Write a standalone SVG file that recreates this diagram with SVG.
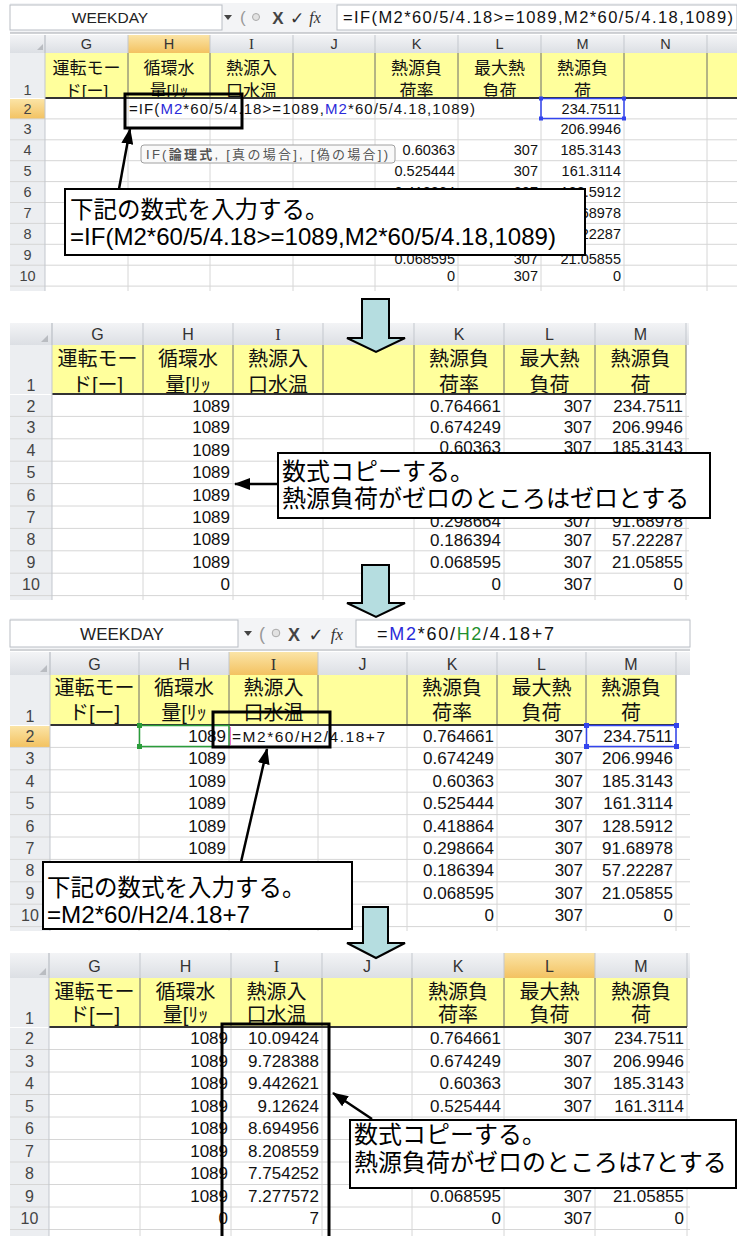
<svg xmlns="http://www.w3.org/2000/svg" width="737" height="1236" viewBox="0 0 737 1236">
<defs>
<style>
.num{font-family:"Liberation Sans",Arial,sans-serif;text-anchor:end;fill:#111}
.s1{font-size:14.5px}
.s2{font-size:17px}
.rn{font-family:"Liberation Sans",Arial,sans-serif;text-anchor:middle;fill:#444}
.cl{font-family:"Liberation Sans",Arial,sans-serif;text-anchor:middle;fill:#333}
.jp{font-family:"Liberation Sans","Noto Sans CJK JP","Noto Sans CJK SC",sans-serif}
.hd{text-anchor:middle;fill:#111}
.grid{stroke:#d6d6d6;stroke-width:1;fill:none}
.vsep{stroke:#c3c7cd;stroke-width:1}
.hsep{stroke:#6b6b6b;stroke-width:1}
.chbg{fill:url(#gch)}
.chhl{fill:url(#gchh)}
.rnbg{fill:#eceef1}
.yel{fill:#ffff9c}
.co{fill:#fff;stroke:#000;stroke-width:2}
.hl{fill:none;stroke:#000;stroke-width:3}
.ln{stroke:#000;stroke-width:2.5;fill:none;marker-end:url(#ah)}
.darr{fill:#b5dde0;stroke:#000;stroke-width:2;stroke-linejoin:miter}
.ct{font-size:24px;fill:#000}
.lat{font-family:"Liberation Sans",Arial,sans-serif}
.blue{fill:#2b2bd9}
.green{fill:#1f8f2f}
.fb{fill:#f3f4f6}
.box{fill:#fff;stroke:#b9bdc4;stroke-width:1}
.thick{stroke:#333;stroke-width:2}
</style>
<linearGradient id="gch" x1="0" y1="0" x2="0" y2="1"><stop offset="0" stop-color="#f3f4f6"/><stop offset="1" stop-color="#dcdfe4"/></linearGradient>
<linearGradient id="gchh" x1="0" y1="0" x2="0" y2="1"><stop offset="0" stop-color="#fbe4a6"/><stop offset="1" stop-color="#f3c261"/></linearGradient>
<marker id="ah" markerUnits="userSpaceOnUse" markerWidth="16" markerHeight="12" viewBox="0 0 16 12" refX="15" refY="6" orient="auto"><path d="M0,0 L16,6 L0,12 z" fill="#000"/></marker>
</defs>
<rect x="0" y="0" width="737" height="1236" fill="#fff"/>

<!-- PANEL 1 -->
<g id="panel1">
<rect class="fb" x="10" y="3" width="727" height="30"/>
<rect class="box" x="10" y="5" width="212" height="25"/>
<text class="lat" x="110" y="23" font-size="15.5" text-anchor="middle" fill="#222">WEEKDAY</text>
<polygon points="224,15 232,15 228,20" fill="#444"/>
<text class="lat" x="240" y="23" font-size="17" fill="#999">(</text>
<circle cx="256" cy="17" r="3.5" fill="#e2e2e2" stroke="#aaa"/>
<text class="lat" x="278" y="24" font-size="17" font-weight="bold" text-anchor="middle" fill="#444">X</text>
<text x="297" y="24" font-family="DejaVu Sans, sans-serif" font-size="17" text-anchor="middle" fill="#333">✓</text>
<text x="315" y="23" font-family="Liberation Serif, serif" font-style="italic" font-size="16" text-anchor="middle" fill="#333">fx</text>
<rect class="box" x="337" y="5" width="400" height="25"/>
<text class="lat" x="343" y="23" font-size="16.5" textLength="390" lengthAdjust="spacing" fill="#111">=IF(M2*60/5/4.18&gt;=1089,M2*60/5/4.18,1089)</text>
<line x1="10" y1="33" x2="737" y2="33" stroke="#a4a8ae"/>

<rect class="chbg" x="10" y="35" width="727" height="18"/>
<rect class="chhl" x="128" y="35" width="82" height="18"/>
<polygon points="37,50 43,50 43,44" fill="#b9bcc1"/>
<path class="vsep" d="M45 35V53M128 35V53M210 35V53M293 35V53M375 35V53M458 35V53M541 35V53M624 35V53M707 35V53"/>
<text class="cl" font-size="14.5" y="49"><tspan x="86.5">G</tspan><tspan x="169">H</tspan></text>
<text x="251.5" y="49" font-family="Liberation Serif, serif" font-size="15" text-anchor="middle" fill="#333">I</text>
<text class="cl" font-size="14.5" y="49"><tspan x="334">J</tspan><tspan x="416.5">K</tspan><tspan x="499.5">L</tspan><tspan x="582.5">M</tspan><tspan x="665.5">N</tspan></text>

<rect class="rnbg" x="10" y="53" width="35" height="45"/>
<rect class="yel" x="45" y="53" width="692" height="45"/>
<text class="rn" font-size="14.5" x="27.5" y="95">1</text>
<g class="jp hd" font-size="17">
<text y="74"><tspan x="86.5">運転モー</tspan><tspan x="86.5" y="96.5">ド[ー]</tspan></text>
<text y="74"><tspan x="169">循環水</tspan><tspan x="169" y="96.5">量[ﾘｯ</tspan></text>
<text y="74"><tspan x="251.5">熱源入</tspan><tspan x="251.5" y="96.5">口水温</tspan></text>
<text y="74"><tspan x="416.5">熱源負</tspan><tspan x="416.5" y="96.5">荷率</tspan></text>
<text y="74"><tspan x="499.5">最大熱</tspan><tspan x="499.5" y="96.5">負荷</tspan></text>
<text y="74"><tspan x="582.5">熱源負</tspan><tspan x="582.5" y="96.5">荷</tspan></text>
</g>
<rect x="45" y="99" width="692" height="192" fill="#fff"/>
<path class="hsep" d="M128 53V98M210 53V98M293 53V98M375 53V98M458 53V98M541 53V98M624 53V98M707 53V98"/>
<line class="thick" x1="45" y1="98" x2="737" y2="98"/>
<rect class="rnbg" x="10" y="99" width="35" height="192"/>
<rect class="chhl" x="10" y="99" width="35" height="20"/>
<path class="grid" d="M10 118.9H737M10 139.8H737M10 160.7H737M10 181.6H737M10 202.5H737M10 223.4H737M10 244.3H737M10 265.2H737M10 286.1H737"/>
<path class="grid" d="M128 99V291M210 99V291M293 99V291M375 99V291M458 99V291M541 99V291M624 99V291M707 99V291"/>
<line class="vsep" x1="45" y1="35" x2="45" y2="291"/>
<g class="rn" font-size="14.5">
<text x="27.5" y="113.5">2</text><text x="27.5" y="134.4">3</text><text x="27.5" y="155.3">4</text><text x="27.5" y="176.2">5</text><text x="27.5" y="197.1">6</text><text x="27.5" y="218">7</text><text x="27.5" y="238.9">8</text><text x="27.5" y="259.8">9</text><text x="27.5" y="280.7">10</text>
</g>
<text class="lat" x="129" y="113.8" font-size="15" textLength="346" lengthAdjust="spacing" fill="#111">=IF(<tspan class="blue">M2</tspan>*60/5/4.18&gt;=1089,<tspan class="blue">M2</tspan>*60/5/4.18,1089)</text>
<g class="num s1">
<text x="621" y="113.5">234.7511</text>
<text x="621" y="134.4">206.9946</text>
<text x="455" y="155.3">0.60363</text><text x="538" y="155.3">307</text><text x="621" y="155.3">185.3143</text>
<text x="455" y="176.2">0.525444</text><text x="538" y="176.2">307</text><text x="621" y="176.2">161.3114</text>
<text x="455" y="196.6">0.418864</text><text x="538" y="196.6">307</text><text x="621" y="196.6">128.5912</text>
<text x="621" y="218">91.68978</text>
<text x="621" y="238.9">57.22287</text>
<text x="455" y="263.6">0.068595</text><text x="538" y="263.6">307</text><text x="621" y="263.6">21.05855</text>
<text x="455" y="281">0</text><text x="538" y="281">307</text><text x="621" y="281">0</text>
</g>
<rect x="541" y="98.5" width="83" height="20" fill="none" stroke="#3344ee" stroke-width="1.5"/>
<rect x="539" y="96.5" width="4" height="4" fill="#3344ee"/><rect x="622" y="96.5" width="4" height="4" fill="#3344ee"/><rect x="539" y="116.5" width="4" height="4" fill="#3344ee"/><rect x="622" y="116.5" width="4" height="4" fill="#3344ee"/>
<rect x="141" y="145" width="254" height="18" rx="3" fill="#f9f9f9" stroke="#a0a0a0"/>
<text class="jp" x="146" y="159" font-size="13" textLength="242" lengthAdjust="spacing" fill="#555">IF(<tspan font-weight="bold">論理式</tspan>, [真の場合], [偽の場合])</text>
</g>
<g id="p1-formula-box"><rect class="hl" x="125" y="94" width="117" height="34"/></g>
<g id="p1-callout">
<rect class="co" x="65" y="189" width="520" height="66"/>
<text class="jp ct"><tspan x="70" y="218" font-size="23.5">下記の数式を入力する。</tspan><tspan x="70" y="245" textLength="486" lengthAdjust="spacingAndGlyphs">=IF(M2*60/5/4.18&gt;=1089,M2*60/5/4.18,1089)</tspan></text>
</g>

<!-- PANEL 2 -->
<g id="panel2">
<rect class="chbg" x="10" y="323" width="679" height="22"/>
<polygon points="41,342 48,342 48,335" fill="#b9bcc1"/>
<path class="vsep" d="M52 323V345M143 323V345M233 323V345M323 323V345M414 323V345M504 323V345M595 323V345M686 323V345"/>
<text class="cl" font-size="16" y="340"><tspan x="97.5">G</tspan><tspan x="188">H</tspan></text>
<text x="278" y="340" font-family="Liberation Serif, serif" font-size="16.5" text-anchor="middle" fill="#333">I</text>
<text class="cl" font-size="16" y="340"><tspan x="368.5">J</tspan><tspan x="459">K</tspan><tspan x="549.5">L</tspan><tspan x="640.5">M</tspan></text>
<rect class="rnbg" x="10" y="345" width="42" height="49"/>
<rect class="yel" x="52" y="345" width="634" height="49"/>
<text class="rn" font-size="16" x="31" y="391">1</text>
<g class="jp hd" font-size="20">
<text y="366"><tspan x="97.5">運転モー</tspan><tspan x="97.5" y="391.5">ド[ー]</tspan></text>
<text y="366"><tspan x="188">循環水</tspan><tspan x="188" y="391.5">量[ﾘｯ</tspan></text>
<text y="366"><tspan x="278">熱源入</tspan><tspan x="278" y="391.5">口水温</tspan></text>
<text y="366"><tspan x="459">熱源負</tspan><tspan x="459" y="391.5">荷率</tspan></text>
<text y="366"><tspan x="549.5">最大熱</tspan><tspan x="549.5" y="391.5">負荷</tspan></text>
<text y="366"><tspan x="640.5">熱源負</tspan><tspan x="640.5" y="391.5">荷</tspan></text>
</g>
<rect x="52" y="395" width="637" height="205" fill="#fff"/>
<path class="hsep" d="M143 345V394M233 345V394M323 345V394M414 345V394M504 345V394M595 345V394M686 345V394"/>
<line class="thick" x1="52" y1="394" x2="686" y2="394"/>
<rect class="rnbg" x="10" y="395" width="42" height="205"/>
<path class="grid" d="M10 416.4H689M10 438.8H689M10 461.2H689M10 483.6H689M10 506H689M10 528.4H689M10 550.8H689M10 573.2H689M10 595.6H689"/>
<path class="grid" d="M143 395V600M233 395V600M323 395V600M414 395V600M504 395V600M595 395V600M686 395V600"/>
<line class="vsep" x1="52" y1="323" x2="52" y2="600"/>
<g class="rn" font-size="16">
<text x="31" y="411.5">2</text><text x="31" y="433.4">3</text><text x="31" y="455.8">4</text><text x="31" y="478.2">5</text><text x="31" y="500.6">6</text><text x="31" y="523">7</text><text x="31" y="545.4">8</text><text x="31" y="567.8">9</text><text x="31" y="590.2">10</text>
</g>
<g class="num s2">
<text x="230" y="411.5">1089</text><text x="230" y="433.4">1089</text><text x="230" y="455.8">1089</text><text x="230" y="478.2">1089</text><text x="230" y="500.6">1089</text><text x="230" y="523">1089</text><text x="230" y="545.4">1089</text><text x="230" y="567.8">1089</text><text x="230" y="590.2">0</text>
<text x="501" y="411.5">0.764661</text><text x="592" y="411.5">307</text><text x="683" y="411.5">234.7511</text>
<text x="501" y="433.4">0.674249</text><text x="592" y="433.4">307</text><text x="683" y="433.4">206.9946</text>
<text x="501" y="453.4">0.60363</text><text x="592" y="453.4">307</text><text x="683" y="453.4">185.3143</text>
<text x="501" y="527.3">0.298664</text><text x="592" y="527.3">307</text><text x="683" y="527.3">91.68978</text>
<text x="501" y="546">0.186394</text><text x="592" y="546">307</text><text x="683" y="546">57.22287</text>
<text x="501" y="567.8">0.068595</text><text x="592" y="567.8">307</text><text x="683" y="567.8">21.05855</text>
<text x="501" y="590.2">0</text><text x="592" y="590.2">307</text><text x="683" y="590.2">0</text>
</g>
</g>
<g id="p2-callout">
<rect class="co" x="278" y="453" width="432" height="65"/>
<text class="jp ct"><tspan x="282" y="479.5">数式コピーする。</tspan><tspan x="282" y="506.5">熱源負荷がゼロのところはゼロとする</tspan></text>
</g>

<!-- PANEL 3 -->
<g id="panel3">
<rect class="fb" x="10" y="618" width="680" height="31"/>
<rect class="box" x="10" y="620" width="228" height="27"/>
<text class="lat" x="122" y="640" font-size="17" text-anchor="middle" fill="#222">WEEKDAY</text>
<polygon points="244,631 252,631 248,636" fill="#444"/>
<text class="lat" x="259" y="640" font-size="18" fill="#999">(</text>
<circle cx="276" cy="633" r="3.8" fill="#e2e2e2" stroke="#aaa"/>
<text class="lat" x="294" y="641" font-size="18" font-weight="bold" text-anchor="middle" fill="#444">X</text>
<text x="316" y="641" font-family="DejaVu Sans, sans-serif" font-size="18" text-anchor="middle" fill="#333">✓</text>
<text x="337" y="640" font-family="Liberation Serif, serif" font-style="italic" font-size="17" text-anchor="middle" fill="#333">fx</text>
<rect class="box" x="356" y="620" width="334" height="27"/>
<text class="lat" x="377" y="640" font-size="18" textLength="177" lengthAdjust="spacing" fill="#111">=<tspan class="blue">M2</tspan>*60/<tspan class="green">H2</tspan>/4.18+7</text>
<line x1="10" y1="650" x2="690" y2="650" stroke="#a4a8ae"/>
<rect class="chbg" x="10" y="652" width="680" height="23"/>
<rect class="chhl" x="229" y="652" width="89" height="23"/>
<polygon points="40,672 47,672 47,665" fill="#b9bcc1"/>
<path class="vsep" d="M50 652V675M139 652V675M229 652V675M318 652V675M407 652V675M497 652V675M586 652V675M676 652V675"/>
<text class="cl" font-size="16" y="670"><tspan x="94.5">G</tspan><tspan x="184">H</tspan></text>
<text x="273.5" y="670" font-family="Liberation Serif, serif" font-size="16.5" text-anchor="middle" fill="#333">I</text>
<text class="cl" font-size="16" y="670"><tspan x="362.5">J</tspan><tspan x="452">K</tspan><tspan x="541.5">L</tspan><tspan x="631">M</tspan></text>
<rect class="rnbg" x="10" y="675" width="40" height="50"/>
<rect class="yel" x="50" y="675" width="626" height="50"/>
<text class="rn" font-size="16" x="30" y="722">1</text>
<g class="jp hd" font-size="20">
<text y="695"><tspan x="94.5">運転モー</tspan><tspan x="94.5" y="720">ド[ー]</tspan></text>
<text y="695"><tspan x="184">循環水</tspan><tspan x="184" y="720">量[ﾘｯ</tspan></text>
<text y="695"><tspan x="273.5">熱源入</tspan><tspan x="273.5" y="720">口水温</tspan></text>
<text y="695"><tspan x="452">熱源負</tspan><tspan x="452" y="720">荷率</tspan></text>
<text y="695"><tspan x="541.5">最大熱</tspan><tspan x="541.5" y="720">負荷</tspan></text>
<text y="695"><tspan x="631">熱源負</tspan><tspan x="631" y="720">荷</tspan></text>
</g>
<rect x="50" y="726" width="640" height="205" fill="#fff"/>
<path class="hsep" d="M139 675V725M229 675V725M318 675V725M407 675V725M497 675V725M586 675V725M676 675V725"/>
<line class="thick" x1="50" y1="725" x2="676" y2="725"/>
<rect class="rnbg" x="10" y="726" width="40" height="205"/>
<rect class="chhl" x="10" y="726" width="40" height="21"/>
<path class="grid" d="M10 747.4H690M10 769.8H690M10 792.2H690M10 814.6H690M10 837H690M10 859.4H690M10 881.8H690M10 904.2H690M10 926.6H690"/>
<path class="grid" d="M139 726V931M229 726V931M318 726V931M407 726V931M497 726V931M586 726V931M676 726V931"/>
<line class="vsep" x1="50" y1="652" x2="50" y2="931"/>
<g class="rn" font-size="16">
<text x="30" y="742">2</text><text x="30" y="764.4">3</text><text x="30" y="786.8">4</text><text x="30" y="809.2">5</text><text x="30" y="831.6">6</text><text x="30" y="854">7</text><text x="30" y="876.4">8</text><text x="30" y="898.8">9</text><text x="30" y="921.2">10</text>
</g>
<rect x="230" y="726" width="170" height="20" fill="#fff"/>
<line x1="230" y1="727" x2="230" y2="745" stroke="#e040c0" stroke-width="1.5"/>
<text class="lat" x="232" y="742" font-size="15.5" textLength="153" lengthAdjust="spacing" fill="#111">=M2*60/H2/4.18+7</text>
<g class="num s2">
<text x="226" y="742">1089</text><text x="226" y="764.4">1089</text><text x="226" y="786.8">1089</text><text x="226" y="809.2">1089</text><text x="226" y="831.6">1089</text><text x="226" y="854">1089</text>
<text x="494" y="742">0.764661</text><text x="583" y="742">307</text><text x="673" y="742">234.7511</text>
<text x="494" y="764.4">0.674249</text><text x="583" y="764.4">307</text><text x="673" y="764.4">206.9946</text>
<text x="494" y="786.8">0.60363</text><text x="583" y="786.8">307</text><text x="673" y="786.8">185.3143</text>
<text x="494" y="809.2">0.525444</text><text x="583" y="809.2">307</text><text x="673" y="809.2">161.3114</text>
<text x="494" y="831.6">0.418864</text><text x="583" y="831.6">307</text><text x="673" y="831.6">128.5912</text>
<text x="494" y="854">0.298664</text><text x="583" y="854">307</text><text x="673" y="854">91.68978</text>
<text x="494" y="876.4">0.186394</text><text x="583" y="876.4">307</text><text x="673" y="876.4">57.22287</text>
<text x="494" y="898.8">0.068595</text><text x="583" y="898.8">307</text><text x="673" y="898.8">21.05855</text>
<text x="494" y="921.2">0</text><text x="583" y="921.2">307</text><text x="673" y="921.2">0</text>
</g>
<rect x="139.5" y="725.5" width="89.5" height="21" fill="none" stroke="#2a9d3a" stroke-width="1.5"/>
<rect x="137" y="723" width="5" height="5" fill="#2a9d3a"/><rect x="137" y="744" width="5" height="5" fill="#2a9d3a"/>
<rect x="586.5" y="725.5" width="89.5" height="21" fill="none" stroke="#3344ee" stroke-width="1.5"/>
<rect x="584" y="723" width="5" height="5" fill="#3344ee"/><rect x="674" y="723" width="5" height="5" fill="#3344ee"/><rect x="584" y="744" width="5" height="5" fill="#3344ee"/><rect x="674" y="744" width="5" height="5" fill="#3344ee"/>
</g>
<g id="p3-formula-box"><rect class="hl" x="213" y="712" width="117" height="35"/></g>
<g id="p3-callout">
<rect class="co" x="43" y="862" width="309" height="67"/>
<text class="jp ct"><tspan x="47" y="896" font-size="23.5">下記の数式を入力する。</tspan><tspan x="47" y="923" textLength="203" lengthAdjust="spacingAndGlyphs">=M2*60/H2/4.18+7</tspan></text>
</g>

<!-- PANEL 4 -->
<g id="panel4">
<rect class="chbg" x="10" y="953" width="680" height="25"/>
<rect class="chhl" x="504" y="953" width="91" height="25"/>
<polygon points="39,975 46,975 46,968" fill="#b9bcc1"/>
<path class="vsep" d="M49 953V978M140 953V978M231 953V978M322 953V978M412 953V978M504 953V978M595 953V978M687 953V978"/>
<text class="cl" font-size="16" y="972"><tspan x="94.5">G</tspan><tspan x="185.5">H</tspan></text>
<text x="276.5" y="972" font-family="Liberation Serif, serif" font-size="16.5" text-anchor="middle" fill="#333">I</text>
<text class="cl" font-size="16" y="972"><tspan x="367">J</tspan><tspan x="458">K</tspan><tspan x="549.5">L</tspan><tspan x="641">M</tspan></text>
<rect class="rnbg" x="10" y="978" width="39" height="49"/>
<rect class="yel" x="49" y="978" width="638" height="49"/>
<text class="rn" font-size="16" x="29.5" y="1024">1</text>
<g class="jp hd" font-size="20">
<text y="999"><tspan x="94.5">運転モー</tspan><tspan x="94.5" y="1022">ド[ー]</tspan></text>
<text y="999"><tspan x="185.5">循環水</tspan><tspan x="185.5" y="1022">量[ﾘｯ</tspan></text>
<text y="999"><tspan x="276.5">熱源入</tspan><tspan x="276.5" y="1022">口水温</tspan></text>
<text y="999"><tspan x="458">熱源負</tspan><tspan x="458" y="1022">荷率</tspan></text>
<text y="999"><tspan x="549.5">最大熱</tspan><tspan x="549.5" y="1022">負荷</tspan></text>
<text y="999"><tspan x="641">熱源負</tspan><tspan x="641" y="1022">荷</tspan></text>
</g>
<rect x="49" y="1028" width="641" height="208" fill="#fff"/>
<path class="hsep" d="M140 978V1027M231 978V1027M322 978V1027M412 978V1027M504 978V1027M595 978V1027M687 978V1027"/>
<line class="thick" x1="49" y1="1027" x2="687" y2="1027"/>
<rect class="rnbg" x="10" y="1028" width="39" height="208"/>
<path class="grid" d="M10 1049.5H690M10 1072H690M10 1094.5H690M10 1117H690M10 1139.5H690M10 1162H690M10 1184.5H690M10 1207H690M10 1229.5H690"/>
<path class="grid" d="M140 1028V1236M231 1028V1236M322 1028V1236M412 1028V1236M504 1028V1236M595 1028V1236M687 1028V1236"/>
<line class="vsep" x1="49" y1="953" x2="49" y2="1236"/>
<g class="rn" font-size="16">
<text x="29.5" y="1044">2</text><text x="29.5" y="1066.5">3</text><text x="29.5" y="1089">4</text><text x="29.5" y="1111.5">5</text><text x="29.5" y="1134">6</text><text x="29.5" y="1156.5">7</text><text x="29.5" y="1179">8</text><text x="29.5" y="1201.5">9</text><text x="29.5" y="1224">10</text>
</g>
<g class="num s2">
<text x="228" y="1044">1089</text><text x="228" y="1066.5">1089</text><text x="228" y="1089">1089</text><text x="228" y="1111.5">1089</text><text x="228" y="1134">1089</text><text x="228" y="1156.5">1089</text><text x="228" y="1179">1089</text><text x="228" y="1201.5">1089</text><text x="228" y="1224">0</text>
<text x="319" y="1044">10.09424</text><text x="319" y="1066.5">9.728388</text><text x="319" y="1089">9.442621</text><text x="319" y="1111.5">9.12624</text><text x="319" y="1134">8.694956</text><text x="319" y="1156.5">8.208559</text><text x="319" y="1179">7.754252</text><text x="319" y="1201.5">7.277572</text><text x="319" y="1224">7</text>
<text x="501" y="1044">0.764661</text><text x="592" y="1044">307</text><text x="684" y="1044">234.7511</text>
<text x="501" y="1066.5">0.674249</text><text x="592" y="1066.5">307</text><text x="684" y="1066.5">206.9946</text>
<text x="501" y="1089">0.60363</text><text x="592" y="1089">307</text><text x="684" y="1089">185.3143</text>
<text x="501" y="1111.5">0.525444</text><text x="592" y="1111.5">307</text><text x="684" y="1111.5">161.3114</text>
<text x="501" y="1201.5">0.068595</text><text x="592" y="1201.5">307</text><text x="684" y="1201.5">21.05855</text>
<text x="501" y="1224">0</text><text x="592" y="1224">307</text><text x="684" y="1224">0</text>
</g>
</g>
<g id="p4-column-box"><rect class="hl" x="222" y="1024" width="107" height="230"/></g>
<g id="p4-callout">
<rect class="co" x="350" y="1120" width="386" height="68"/>
<text class="jp ct"><tspan x="354" y="1143">数式コピーする。</tspan><tspan x="354" y="1171">熱源負荷がゼロのところは7とする</tspan></text>
</g>

<!-- CONNECTORS -->
<g id="connectors">
<polygon class="darr" points="362,299 389,299 389,338 405,338 376,352 347,338 362,338"/>
<polygon class="darr" points="362,565 389,565 389,603 405,603 376,617 347,603 362,603"/>
<polygon class="darr" points="363,907 388,907 388,943 405,943 376,958 347,943 363,943"/>
<line class="ln" x1="119" y1="189" x2="130" y2="129"/>
<line class="ln" x1="278" y1="484" x2="235" y2="484"/>
<line class="ln" x1="241" y1="862" x2="267" y2="749"/>
<line class="ln" x1="372" y1="1119" x2="333" y2="1093"/>
</g>
</svg>
